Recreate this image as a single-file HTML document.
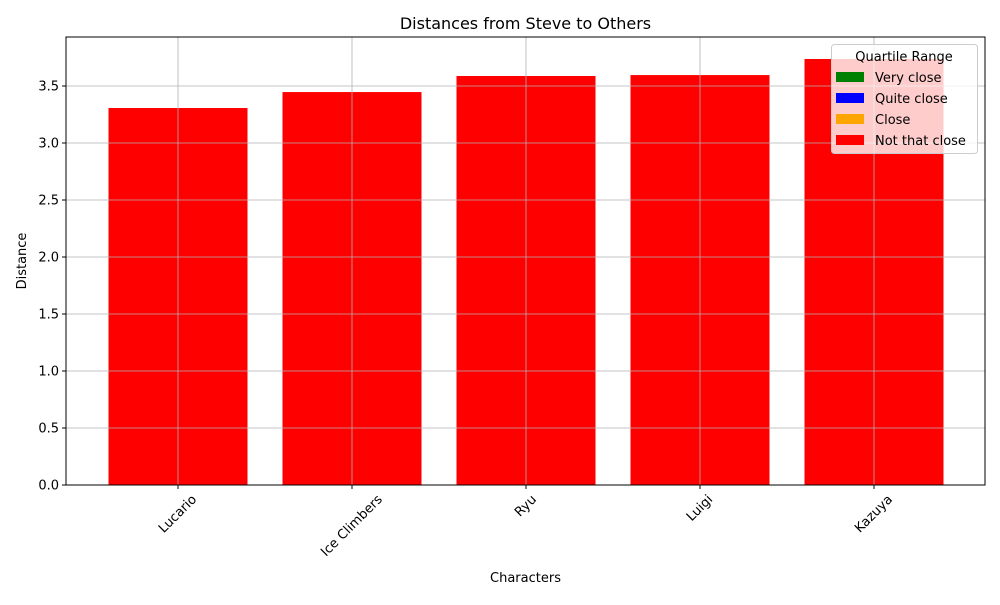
<!DOCTYPE html>
<html><head><meta charset="utf-8"><style>
body{margin:0;background:#fff;}
svg text{font-family:"DejaVu Sans","Liberation Sans",sans-serif;}
</style></head><body>
<svg id="chart" width="1000" height="600" xmlns="http://www.w3.org/2000/svg">
<rect width="1000" height="600" fill="#fff"/>
<g id="bars"></g><g id="grid"></g><g id="ticks"></g>
<rect x="66" y="37" width="919" height="448" fill="none" stroke="#000" stroke-width="1"/>
<text x="525.5" y="29" font-size="16" text-anchor="middle">Distances from Steve to Others</text>
<text x="525.5" y="582" font-size="13" text-anchor="middle">Characters</text>
<text x="26" y="261" font-size="13" text-anchor="middle" transform="rotate(-90 26 261)">Distance</text>
<g>
<rect x="831.5" y="44.5" width="146" height="109" rx="3" fill="#fff" fill-opacity="0.8" stroke="#ccc"/>
<text x="904" y="61" font-size="13" text-anchor="middle">Quartile Range</text>
<g id="legend-items"></g>
</g>
</svg>
<script>
const categories=["Lucario","Ice Climbers","Ryu","Luigi","Kazuya"];
const values=[3.307,3.447,3.588,3.596,3.737];
const yTicks=[0,0.5,1,1.5,2,2.5,3,3.5];
const yTickLabels=["0.0","0.5","1.0","1.5","2.0","2.5","3.0","3.5"];
const legendLabels=["Very close","Quite close","Close","Not that close"];
const legendColors=["green","blue","orange","red"];
const NS="http://www.w3.org/2000/svg";
const L=66,R=985,T=37,B=485,yMax=3.93;
const y=v=>B-v/yMax*(B-T);
const band=174, x0=178-L;
const xc=i=>L+x0+i*band;
const bw=139;
function mk(t,a,p){const e=document.createElementNS(NS,t);for(const k in a)e.setAttribute(k,a[k]);(p||document.getElementById("chart")).appendChild(e);return e;}
const gb=document.getElementById("bars"),gg=document.getElementById("grid"),gt=document.getElementById("ticks");
categories.forEach((c,i)=>{
 const r=mk("rect",{x:xc(i)-bw/2,y:y(values[i]),width:bw,height:B-y(values[i]),fill:"red"},gb);
 
 
 mk("line",{x1:xc(i),x2:xc(i),y1:T,y2:B,stroke:"#b0b0b0","stroke-width":0.8},gg);
 mk("line",{x1:xc(i),x2:xc(i),y1:B,y2:B+4,stroke:"#000"},gt);
 const t=mk("text",{x:0,y:0,"font-size":13,"text-anchor":"middle","dominant-baseline":"central"},gt);
 
 
 t.textContent=c;
 const len=t.getComputedTextLength();
 const ext=(len+13)*0.7071;
 const cy=B+8+ext/2;
 t.setAttribute("transform",`translate(${xc(i)} ${cy}) rotate(-45)`);
});
yTicks.forEach((v,i)=>{
 mk("line",{x1:L,x2:R,y1:y(v),y2:y(v),stroke:"#b0b0b0","stroke-width":0.8},gg);
 mk("line",{x1:L-4,x2:L,y1:y(v),y2:y(v),stroke:"#000"},gt);
 const t=mk("text",{x:L-7,y:y(v)+4.5,"font-size":13,"text-anchor":"end"},gt);
 
 
 t.textContent=yTickLabels[i];
});
const li=document.getElementById("legend-items");
legendLabels.forEach((l,i)=>{
 const yy=72+i*21;
 const s=mk("rect",{x:836,y:yy,width:28,height:10,fill:legendColors[i]},li);
 
 
 const t=mk("text",{x:875,y:yy+10,"font-size":13},li);
 
 
 t.textContent=l;
});
</script>
</body></html>
